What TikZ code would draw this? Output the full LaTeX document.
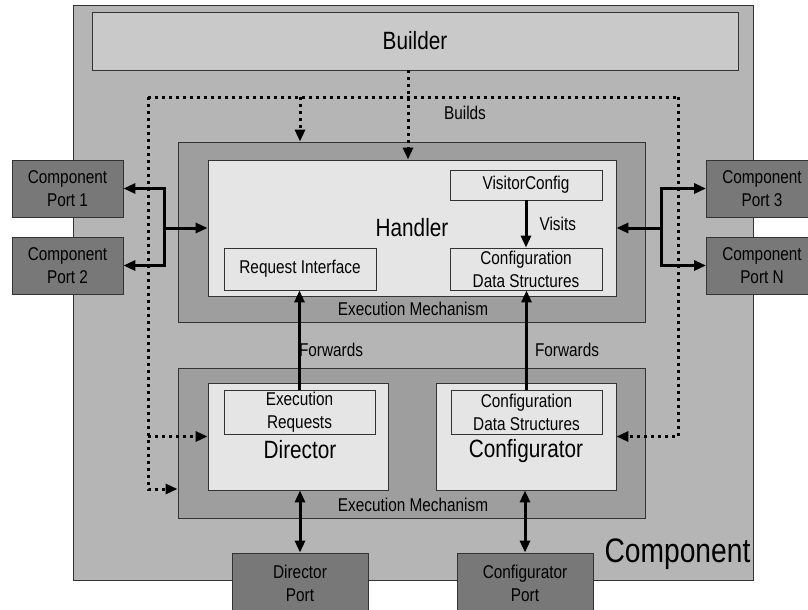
\documentclass[tikz,border=0pt]{standalone}
\usepackage{fontspec}
\setmainfont{Liberation Sans}[FakeStretch=0.83]
\usetikzlibrary{arrows.meta,positioning}
\definecolor{compgray}{gray}{0.71}
\definecolor{buildgray}{gray}{0.79}
\definecolor{mechgray}{gray}{0.62}
\definecolor{innergray}{gray}{0.90}
\definecolor{portgray}{gray}{0.47}
\tikzset{
  box/.style={
    draw=black!80,
    line width=0.9pt,
    inner sep=0pt,
    align=center
  },
  compbox/.style={box, fill=compgray, minimum width=680, minimum height=575},
  buildbox/.style={box, fill=buildgray, minimum width=646, minimum height=58,
    font=\fontsize{25}{30}\selectfont},
  mech/.style={box, fill=mechgray, minimum width=467},
  inner/.style={box, fill=innergray, font=\fontsize{25}{30}\selectfont},
  sub/.style={box, fill=innergray, minimum width=152, minimum height=42},
  port/.style={box, fill=portgray, minimum width=111, minimum height=57},
  arr/.style={
    line width=3pt,
    -{Triangle[length=12pt,width=10pt]}
  },
  dblarr/.style={
    line width=3pt,
    {Triangle[length=12pt,width=10pt]}-{Triangle[length=12pt,width=10pt]}
  },
  dotline/.style={
    line width=3pt,
    dash pattern=on 3pt off 4pt
  },
  dotarr/.style={
    dotline,
    -{Triangle[length=12pt,width=10pt]}
  },
}
\begin{document}
\begin{tikzpicture}[x=1pt,y=-1pt,font=\fontsize{18.5}{23}\selectfont]
\useasboundingbox (0,0) rectangle (808,610);
% component and builder
\node[compbox] (comp) at (413,292.5) {};
\node[anchor=west, font=\fontsize{34}{40}\selectfont] (complabel) at (601,554) {Component};
\node[buildbox] (builder) at (415,41) {Builder};
% handler
\node[mech, minimum height=180] (hmech) at (411.5,232) {};
\node[inner, minimum width=408, minimum height=136] (handler) at (412,228) {Handler};
\node[sub, minimum height=30] (visitor) at (526,185) {VisitorConfig};
\node[sub] (cds1) at (526,269) {Configuration\\Data Structures};
\node[sub] (reqif) at (300,269) {Request Interface};
\node (hmechlabel) at (413,309) {Execution Mechanism};
% director and configurator
\node[mech, minimum height=150] (dmech) at (411.5,443) {};
\node[inner, minimum width=180, minimum height=107] (director) at (298,436.5) {};
\node[inner, minimum width=180, minimum height=107] (configurator) at (526,436.5) {};
\node[sub, minimum width=151, minimum height=44] (execreq) at (299.5,412) {Execution\\Requests};
\node[sub, minimum width=151, minimum height=44] (cds2) at (526.5,412) {Configuration\\Data Structures};
\node[font=\fontsize{25}{30}\selectfont] (dirlabel) at (300,450) {Director};
\node[font=\fontsize{25}{30}\selectfont] (conflabel) at (526,451) {Configurator};
\node (dmechlabel) at (413,505) {Execution Mechanism};
% ports
\node[port] (p1) at (67.5,188.5) {Component\\Port 1};
\node[port] (p2) at (67.5,265.5) {Component\\Port 2};
\node[port] (p3) at (762,188.5) {Component\\Port 3};
\node[port] (pn) at (762,265.5) {Component\\Port N};
\node[port, minimum width=136, minimum height=60] (dport) at (300,583) {Director\\Port};
\node[port, minimum width=136, minimum height=60] (cport) at (525,583) {Configurator\\Port};

% builds (dotted)
\coordinate (tl) at (148,97);
\coordinate (tr) at (678,97);
\coordinate (dl) at (148,489);
\coordinate (bld) at (408,70);
\draw[dotline] (tl) -- (tr);
\draw[dotarr] (bld) -- (bld |- handler.north);
\draw[dotarr] (reqif.north |- tl) -- (reqif.north |- hmech.north);
\draw[dotarr] (tl) -- (dl) -- (dl -| dmech.west);
\draw[dotarr] (tl |- director.west) -- (director.west);
\draw[dotarr] (tr) |- (configurator.east);
\node (builds) at (465,113) {Builds};

% port connections
\coordinate (lb) at (164,228);
\coordinate (rb) at (661,228);
\draw[arr] (lb) -- (handler.west);
\draw[arr] (lb) |- (p1.east);
\draw[arr] (lb) |- (p2.east);
\draw[arr] (rb) -- (handler.east);
\draw[arr] (rb) |- (p3.west);
\draw[arr] (rb) |- (pn.west);

% visits and forwards
\draw[arr] (visitor.south) -- (cds1.north);
\node[anchor=west] (visits) at (536,224) {Visits};
\draw[arr] (execreq.north) -- (execreq.north |- reqif.south);
\draw[arr] (cds2.north) -- (cds2.north |- cds1.south);
\node (fwd1) at (331,350) {Forwards};
\node (fwd2) at (567,350) {Forwards};
\draw[dblarr] (dport.north |- director.south) -- (dport.north);
\draw[dblarr] (cport.north |- configurator.south) -- (cport.north);
\end{tikzpicture}
\end{document}
